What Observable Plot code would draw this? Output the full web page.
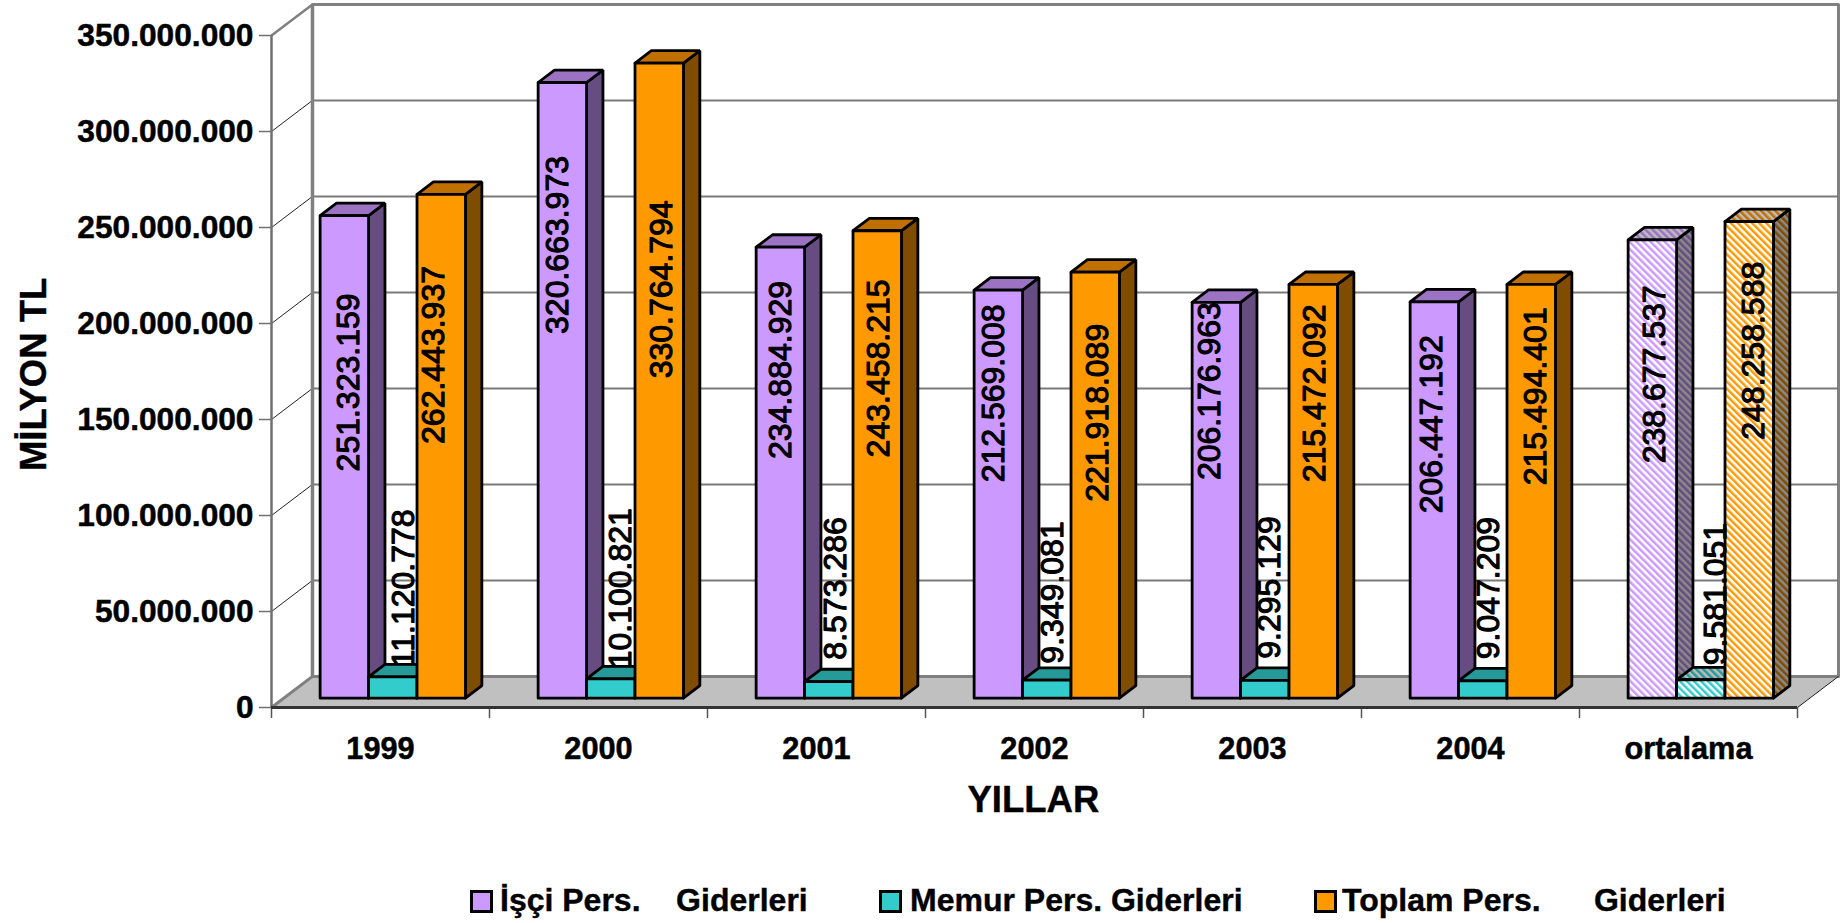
<!DOCTYPE html>
<html>
<head>
<meta charset="utf-8">
<style>
html,body{margin:0;padding:0;background:#fff}
#legend{position:relative;height:53px;font:bold 32px "Liberation Sans",Arial,sans-serif;color:#000;-webkit-text-stroke:.4px #000}
#legend .sw{position:absolute;top:20px;width:17px;height:17px;border:3px solid #000}
#legend .tx{position:absolute;top:11px;white-space:pre;line-height:38px}
#chart g[aria-label$="tick label"]{stroke:#000;stroke-width:.5px}
</style>
</head>
<body>
<div id="chart"></div>
<div id="legend"></div>
<script src="https://cdn.jsdelivr.net/npm/d3@7"></script>
<script src="https://cdn.jsdelivr.net/npm/@observablehq/plot@0.6"></script>
<script>
const categories = ["1999","2000","2001","2002","2003","2004","ortalama"];
const isciGiderleri = [251323159,320663973,234884929,212569008,206176963,206447192,238677537];
const memurGiderleri = [11120778,10100821,8573286,9349081,9295129,9047209,9581051];
const toplamGiderleri = [262443937,330764794,243458215,221918089,215472092,215494401,248258588];
const seriesNames = ["İşçi Pers.    Giderleri","Memur Pers. Giderleri","Toplam Pers.      Giderleri"];
const yTicks = [0,50e6,100e6,150e6,200e6,250e6,300e6,350e6];

// hand-placed data labels in the reference: [category position, value position]
const isciLabelAt = [[.355,169.3e6],[1.312,240.9e6],[2.335,175.8e6],[3.312,163.6e6],[4.306,164.8e6],[5.324,147.5e6],[6.344,173.5e6]];
const memurLabelAt = [[.606,62.1e6],[1.603,62.1e6],[2.587,62e6],[3.583,59.9e6],[4.578,62.5e6],[5.583,62.2e6],[6.624,59.1e6]];
const toplamLabelAt = [[.742,183.6e6],[1.792,217.8e6],[2.784,176.6e6],[3.789,153.5e6],[4.784,163.6e6],[5.798,162.1e6],[6.801,185.8e6]];

const palette = [
  {front:"#CC99FF",side:"#664C80",top:"#9C72C2",hf:"#fff",hs:"#8a8a8a",ht:"#BDBDBD"},
  {front:"#33CCCC",side:"#1A6666",top:"#269999",hf:"#fff",hs:"#8a8a8a",ht:"#BDBDBD"},
  {front:"#FF9900",side:"#804C00",top:"#C07000",hf:"#fff",hs:"#8a8a8a",ht:"#BDBDBD"}
];

// oblique projection, expressed in the units of the two scales
const depthX = 0.188, depthY = 16.2e6;
const px = (x,d) => x + d*depthX;
const py = (y,d) => y + d*depthY;
const d0 = 0.3, d1 = 0.7, barW = 1/4.5, gap = 0.75/4.5;

const dots = v => d3.format(",")(v).replace(/,/g,".");
const series = [isciGiderleri,memurGiderleri,toplamGiderleri];
const labelAt = [isciLabelAt,memurLabelAt,toplamLabelAt];

const faces = [];
function poly(id,fill,pts){ [...pts,pts[0]].forEach(([x,y])=>faces.push({id,fill,x,y})); }
const fillOf = (j,part,i) => i===6 ? `url(#h${j}${part})` : palette[j][part];
categories.forEach((c,i)=>{
  series.forEach((vals,j)=>{
    const l = i+gap+j*barW, r = l+barW, v = vals[i];
    poly(`${i}-${j}-s`,fillOf(j,"side",i),[[px(r,d0),py(0,d0)],[px(r,d1),py(0,d1)],[px(r,d1),py(v,d1)],[px(r,d0),py(v,d0)]]);
    poly(`${i}-${j}-t`,fillOf(j,"top",i),[[px(l,d0),py(v,d0)],[px(l,d1),py(v,d1)],[px(r,d1),py(v,d1)],[px(r,d0),py(v,d0)]]);
    poly(`${i}-${j}-f`,fillOf(j,"front",i),[[px(l,d0),py(0,d0)],[px(r,d0),py(0,d0)],[px(r,d0),py(v,d0)],[px(l,d0),py(v,d0)]]);
  });
});
const labels = series.flatMap((vals,j)=>vals.map((v,i)=>({text:dots(v),x:labelAt[j][i][0],y:labelAt[j][i][1]})));

const floor = [[0,0,0],[7,0,0],[7,0,1],[0,0,1],[0,0,0]].map(([x,y,d])=>({x:px(x,d),y:py(y,d)}));
const wall = [[0,0],[7,0],[7,350e6],[0,350e6],[0,0]].map(([x,y])=>({x:px(x,1),y:py(y,1)}));

const FONT = "Liberation Sans";
const chart = Plot.plot({
  width:1843, height:870,
  marginLeft:271, marginRight:46, marginTop:35, marginBottom:163,
  x:{type:"linear",domain:[0,7]},
  y:{type:"linear",domain:[0,350e6]},
  style:{fontFamily:FONT,background:"#fff",color:"#000"},
  marks:[
    // back wall, grid, floor
    Plot.line(wall,{x:"x",y:"y",fill:"#fff",stroke:"#808080",strokeWidth:3}),
    Plot.link(yTicks.slice(1,-1),{x1:px(0,1),x2:px(7,1),y1:d=>py(d,1),y2:d=>py(d,1),stroke:"#7a7a7a",strokeWidth:2}),
    Plot.link(yTicks.slice(1,-1),{x1:0,x2:px(0,1),y1:d=>d,y2:d=>py(d,1),stroke:"#222",strokeWidth:1}),
    Plot.line(floor,{x:"x",y:"y",fill:"#C0C0C0"}),
    Plot.link([0],{x1:px(0,1),x2:px(7,1),y1:py(0,1),y2:py(0,1),stroke:"#808080",strokeWidth:3}),
    Plot.link([0],{x1:0,x2:px(0,1),y1:0,y2:py(0,1),stroke:"#808080",strokeWidth:3}),
    Plot.link([0],{x1:px(0,1),x2:px(0,1),y1:py(0,1),y2:py(350e6,1),stroke:"#808080",strokeWidth:3.5}),
    Plot.link([350e6],{x1:0,x2:px(0,1),y1:d=>d,y2:d=>py(d,1),stroke:"#808080",strokeWidth:2.5}),
    Plot.link([7],{x1:7,x2:px(7,1),y1:0,y2:py(0,1),stroke:"#222",strokeWidth:1}),
    // axes
    Plot.ruleX([0],{y1:0,y2:350e6,stroke:"#707070",strokeWidth:2.5}),
    Plot.axisY({ticks:yTicks,tickSize:12,tickPadding:6,tickFormat:dots,label:null,stroke:"#707070",fill:"#000",fontSize:31.7,fontWeight:"bold",strokeWidth:1.5}),
    Plot.axisX({ticks:d3.range(8),tickSize:11,tickFormat:()=>"",label:null,stroke:"#555",strokeWidth:1.5}),
    Plot.axisX({ticks:d3.range(7).map(i=>i+.5),tickSize:0,tickPadding:30,tickFormat:d=>categories[Math.floor(d)],label:null,fill:"#000",fontSize:30.7,fontWeight:"bold"}),
    Plot.ruleY([0],{x1:0,x2:7,stroke:"#333",strokeWidth:3}),
    // bars
    Plot.line(faces,{x:"x",y:"y",z:"id",fill:{value:"fill",scale:null},stroke:"#000",strokeWidth:2.8,strokeLinejoin:"miter"}),
    // data labels
    Plot.text(labels,{x:"x",y:"y",text:"text",rotate:-90,textAnchor:"middle",lineAnchor:"middle",fontSize:32,fontWeight:"normal",fill:"#000",stroke:"#000",strokeWidth:1.1}),
    // axis titles
    Plot.text(["MİLYON TL"],{x:-1.09,y:173.5e6,rotate:-90,textAnchor:"middle",lineAnchor:"middle",fontSize:36.5,fontWeight:"bold",fill:"#000",stroke:"#000",strokeWidth:.4}),
    Plot.text(["YILLAR"],{x:3.495,y:-48.5e6,textAnchor:"middle",lineAnchor:"middle",fontSize:36.5,fontWeight:"bold",fill:"#000",stroke:"#000",strokeWidth:.4})
  ]
});

// hatch fills of the "ortalama" bars
const defs = d3.select(chart).insert("defs",":first-child");
palette.forEach((p,j)=>{
  [["front",p.front,p.hf],["side",p.side,p.hs],["top",p.top,p.ht]].forEach(([part,a,b])=>{
    const pat = defs.append("pattern").attr("id",`h${j}${part}`).attr("patternUnits","userSpaceOnUse")
      .attr("width",5).attr("height",5).attr("patternTransform","rotate(-45)");
    pat.append("rect").attr("width",5).attr("height",5).attr("fill",b);
    pat.append("rect").attr("width",2.5).attr("height",5).attr("fill",a);
  });
});
document.getElementById("chart").appendChild(chart);

// legend
const swatchLeft = [470,879,1314], textLeft = [500,910,1342];
const legend = d3.select("#legend");
seriesNames.forEach((n,j)=>{
  legend.append("div").attr("class","sw").style("left",swatchLeft[j]+"px").style("background",palette[j].front);
  legend.append("div").attr("class","tx").style("left",textLeft[j]+"px").text(n);
});
</script>
</body>
</html>
